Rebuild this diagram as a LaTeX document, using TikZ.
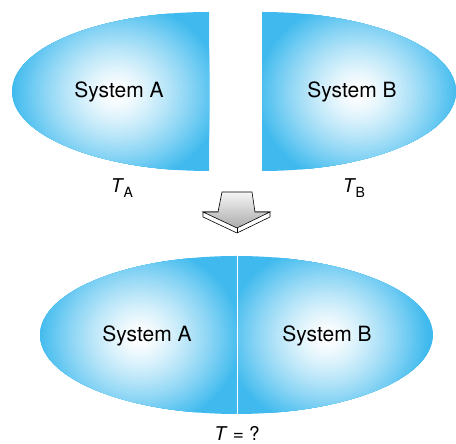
\documentclass[tikz,border=0pt]{standalone}
\usepackage{fontspec}
\setmainfont{TeX Gyre Heros}
\definecolor{cy}{RGB}{64,186,238}
\newcommand{\glowfill}[4]{% center x, center y, rx, ry
  \foreach \i in {0,...,48}{%
    \pgfmathsetmacro\ff{1-\i/48}%
    \pgfmathsetmacro\pp{100*max(0,min(1,(\ff-0.03)/0.97))^1.3}%
    \fill[cy!\pp!white] (#1,#2) ellipse ({#3*\ff+0.01} and {#4*\ff+0.01});
  }}
\begin{document}
\begin{tikzpicture}[x=1pt,y=1pt,
  lbl/.style={font=\fontsize{21}{24}\selectfont, inner sep=0, anchor=base},
  tlbl/.style={font=\fontsize{19}{22}\selectfont, inner sep=0, anchor=base},
  arrowface/.style={draw=black, line width=0.6pt, top color=gray!8, bottom color=gray!65},
  arrowedge/.style={draw=black, line width=0.6pt, fill=white, line join=round}]
\useasboundingbox (0,0) rectangle (456,444);
% System A (top)
\begin{scope}
  \clip (10,271) rectangle (209,434);
  \clip (209,352.5) ellipse (197 and 79.5);
  \fill[cy] (0,260) rectangle (220,444);
  \glowfill{117}{351}{106}{92}
\end{scope}
% System B (top)
\begin{scope}
  \clip (262,271) rectangle (458,434);
  \clip (262,352.5) ellipse (194 and 79.5);
  \fill[cy] (250,260) rectangle (456,444);
  \glowfill{358}{351}{102}{92}
\end{scope}
% Combined ellipse (bottom)
\begin{scope}
  \clip (236.5,109) ellipse (196.5 and 79);
  \fill[cy] (30,20) rectangle (445,200);
  \begin{scope}
    \clip (30,20) rectangle (236.5,200);
    \glowfill{140}{107}{102}{92}
  \end{scope}
  \begin{scope}
    \clip (236.5,20) rectangle (445,200);
    \glowfill{327}{107}{102}{92}
  \end{scope}
  \draw[white, line width=1pt] (237,20) -- (237,200);
\end{scope}
% Arrow
\draw[arrowedge] (203,232) -- (203,227) -- (237,211) -- (270,227) -- (270,232) -- cycle;
\shade[arrowface] (222,252) -- (252,252) -- (255,232) -- (270,232) -- (237,216) -- (203,232) -- (218,232) -- cycle;
\draw[black, line width=0.6pt] (237,216) -- (237,211);
% Labels
\node[lbl] (sa) at (119,346.5) {System A};
\node[lbl] (sb) at (352,346.5) {System B};
\node[tlbl] (ta) at (122,251) {\textit{T}\kern-0.5pt\raisebox{-5pt}{\fontsize{14}{14}\selectfont A}};
\node[tlbl] (tb) at (354,251) {\textit{T}\kern-0.5pt\raisebox{-5pt}{\fontsize{14}{14}\selectfont B}};
\node[lbl] (sa2) at (147,102.5) {System A};
\node[lbl] (sb2) at (327,102.5) {System B};
\node[tlbl] (tq) at (237,3) {\textit{T} = ?};
\end{tikzpicture}
\end{document}
